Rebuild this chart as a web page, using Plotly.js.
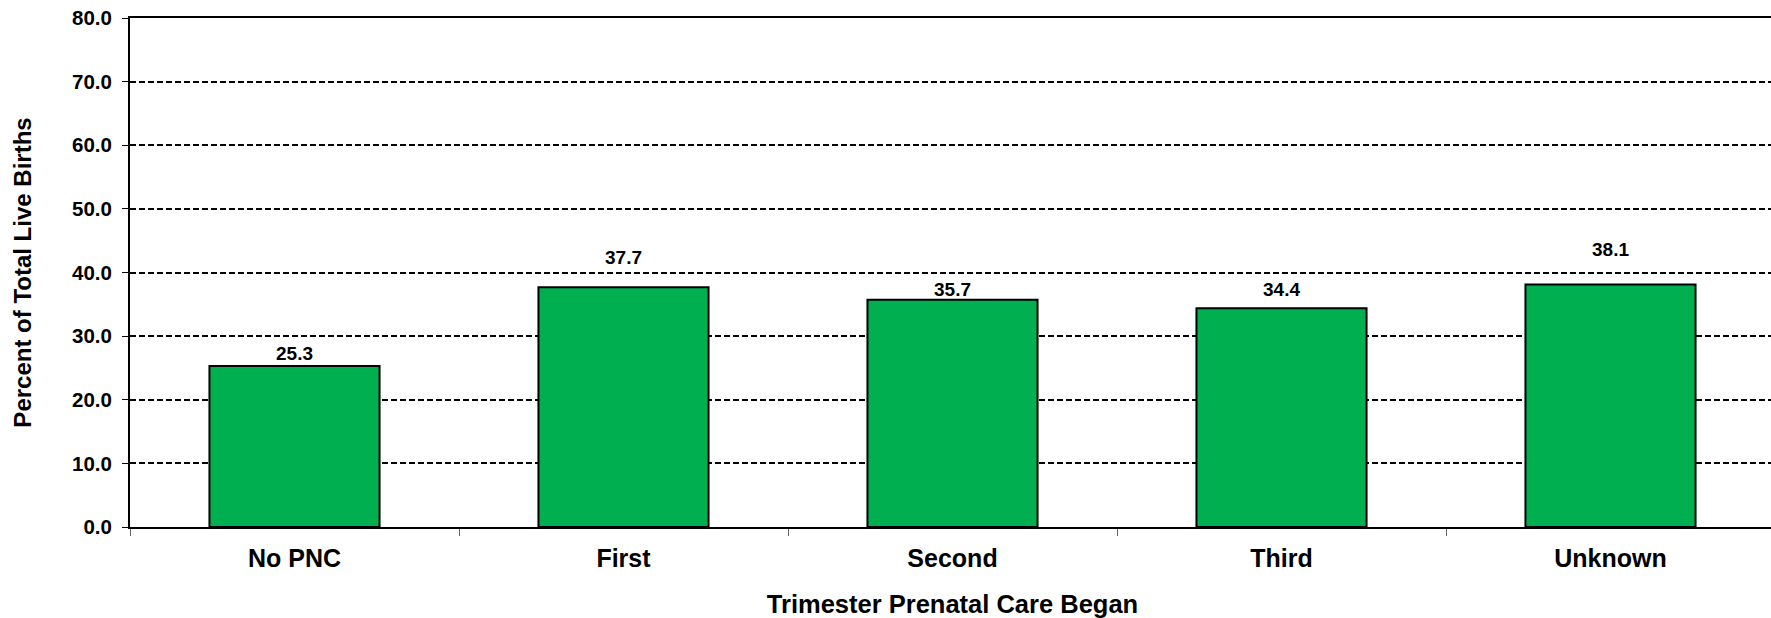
<!DOCTYPE html>
<html>
<head>
<meta charset="utf-8">
<script src="https://cdn.plot.ly/plotly-3.0.1.min.js"></script>
<style>
html, body { margin: 0; padding: 0; overflow: hidden; background: #fff; }
#chart { width: 1775px; height: 618px; }
</style>
</head>
<body>
<div id="chart"></div>
<script>
// Data
const categories = ["No PNC", "First", "Second", "Third", "Unknown"];
const percentValues = [25.3, 37.7, 35.7, 34.4, 38.1];
const yTickValues = [0, 10, 20, 30, 40, 50, 60, 70, 80];

// Label placement offsets (px above bar top), styling only
const labelOffsets = [13, 30, 10, 19, 35];

const FONT = '"Liberation Sans", Arial, sans-serif';

const trace = {
  type: 'bar',
  x: categories,
  y: percentValues,
  marker: { color: '#00B050', line: { color: '#000000', width: 2 } },
  hoverinfo: 'x+y'
};

const annotations = categories.map((c, i) => ({
  x: c, y: percentValues[i], xref: 'x', yref: 'y',
  text: '<b>' + percentValues[i].toFixed(1) + '</b>',
  showarrow: false, yanchor: 'middle', yshift: labelOffsets[i],
  font: { family: FONT, size: 19, color: '#000' }
}));

const layout = {
  width: 1775, height: 618,
  margin: { l: 130, r: 0, t: 18, b: 91, pad: 0 },
  paper_bgcolor: '#fff', plot_bgcolor: '#fff',
  showlegend: false,
  bargap: 0.483,
  font: { family: FONT, color: '#000' },
  xaxis: {
    type: 'category',
    range: [-0.5, 4.5],
    showline: true, linecolor: '#000', linewidth: 2, mirror: true,
    showgrid: false, zeroline: false,
    ticks: 'outside', tickson: 'boundaries', ticklen: 7, tickwidth: 1, tickcolor: '#666',
    tickfont: { family: FONT, size: 25, color: '#000', weight: 'bold' },
    ticklabelstandoff: 8,
    title: { text: '<b>Trimester Prenatal Care Began</b>', font: { family: FONT, size: 25.5, color: '#000' }, standoff: 25 }
  },
  yaxis: {
    range: [0, 80],
    tickvals: yTickValues,
    ticktext: yTickValues.map(v => v.toFixed(1)),
    showline: true, linecolor: '#000', linewidth: 2, mirror: true,
    showgrid: true, gridcolor: '#000', gridwidth: 2, griddash: '6px,3px',
    zeroline: false,
    ticks: 'outside', ticklen: 6, tickwidth: 1, tickcolor: '#000',
    tickfont: { family: FONT, size: 20.5, color: '#000', weight: 'bold' },
    ticklabelstandoff: 6,
    title: { text: '<b>Percent of Total Live Births</b>', font: { family: FONT, size: 24, color: '#000' }, standoff: 34 }
  },
  annotations: annotations
};

Plotly.newPlot('chart', [trace], layout, { displayModeBar: false, staticPlot: true });
</script>
</body>
</html>
